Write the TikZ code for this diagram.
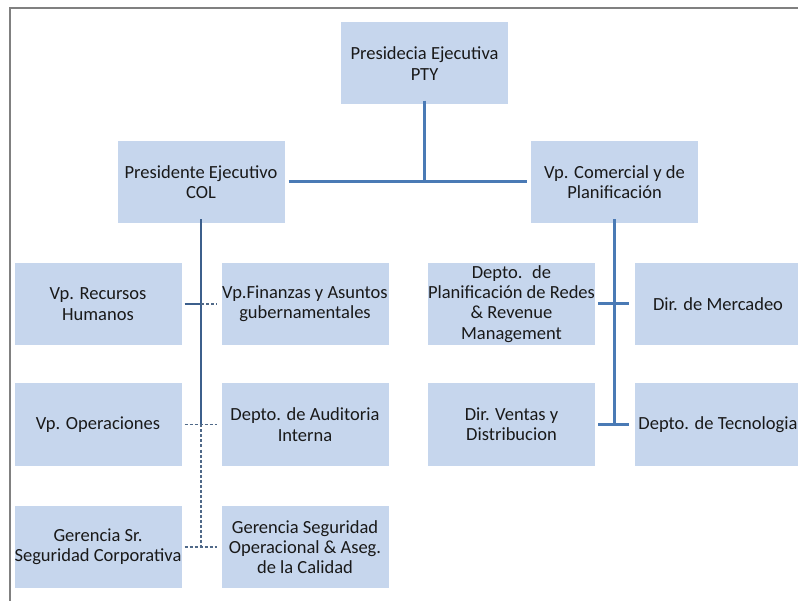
\documentclass[tikz,border=0pt]{standalone}
\usepackage{fontspec}
\setmainfont{Carlito}
\definecolor{boxfill}{RGB}{198,214,237}
\definecolor{linkblue}{RGB}{74,122,181}
\definecolor{spineblue}{RGB}{60,95,140}
\definecolor{framegray}{RGB}{128,128,128}
\definecolor{txt}{RGB}{25,25,25}
\tikzset{
  orgbox/.style={fill=boxfill, draw=none, minimum width=167pt, minimum height=82pt,
    inner sep=0pt, align=center, text=txt, font=\fontsize{18.5}{20.3}\selectfont},
  mainlink/.style={draw=linkblue, line width=3pt},
  thinlink/.style={draw=spineblue, line width=1.3pt},
  dashlink/.style={draw=spineblue!70!gray, line width=1.3pt, dash pattern=on 3pt off 2pt},
}
\begin{document}
\begin{tikzpicture}[x=1pt, y=-1pt]
\useasboundingbox (0,0) rectangle (798,601);
% outer frame: left and top edges only
\draw[framegray, line width=2pt] (10,601) -- (10,8) -- (798,8);

% top level
\node[orgbox] (pty) at (424.5,63.5) {Presidecia Ejecutiva\\PTY};
\node[orgbox] (col) at (201,182) {Presidente Ejecutivo\\COL};
\node[orgbox] (com) at (614.5,182) {Vp. Comercial y de\\Planificación};

% COL branch
\node[orgbox] (rh)  at (98,304)    {Vp. Recursos\\Humanos};
\node[orgbox] (fin) at (305,304)   {Vp.Finanzas y Asuntos\\gubernamentales};
\node[orgbox] (ops) at (98,424.5)  {Vp. Operaciones};
\node[orgbox] (aud) at (305,424.5) {Depto. de Auditoria\\Interna};
\node[orgbox] (gsc) at (98,547)    {Gerencia Sr.\\Seguridad Corporativa};
\node[orgbox] (gso) at (305,547)   {Gerencia Seguridad\\Operacional \& Aseg.\\de la Calidad};

% Comercial branch
\node[orgbox] (plan) at (511.5,304)  {Depto.~ de\\Planificación de Redes\\\& Revenue\\Management};
\node[orgbox] (mer)  at (718,304)    {Dir. de Mercadeo};
\node[orgbox] (ven)  at (511.5,424.5){Dir. Ventas y\\Distribucion};
\node[orgbox] (tec)  at (718,424.5)  {Depto. de Tecnologia};

% spine points
\coordinate (ls1) at (col.south |- rh.east);
\coordinate (ls2) at (col.south |- ops.east);
\coordinate (ls3) at (col.south |- gsc.east);
\coordinate (rs1) at (com.south |- plan.east);
\coordinate (rs2) at (com.south |- ven.east);
\coordinate (top) at (pty.south |- col.east);

% top connectors
\draw[mainlink] ([yshift=4pt]pty.south) -- (top);
\draw[mainlink] ([xshift=4pt]col.east) -- ([xshift=-4pt]com.west);

% right branch
\draw[mainlink] ([yshift=4pt]com.south) -- (rs2);
\draw[mainlink] ([xshift=3pt]plan.east) -- ([xshift=-5pt]mer.west);
\draw[mainlink] ([xshift=3pt]ven.east) -- ([xshift=-5pt]tec.west);

% left branch
\draw[thinlink] ([yshift=4pt]col.south) -- (ls2);
\draw[dashlink] (ls2) -- ([yshift=-1pt]ls3);
\draw[thinlink] ([xshift=3pt]rh.east) -- (ls1);
\draw[dashlink] (ls1) -- ([xshift=-4pt]fin.west);
\draw[dashlink] ([xshift=3pt]ops.east) -- ([xshift=-4pt]aud.west);
\draw[dashlink] ([xshift=3pt]gsc.east) -- ([xshift=-4pt]gso.west);
\end{tikzpicture}
\end{document}
